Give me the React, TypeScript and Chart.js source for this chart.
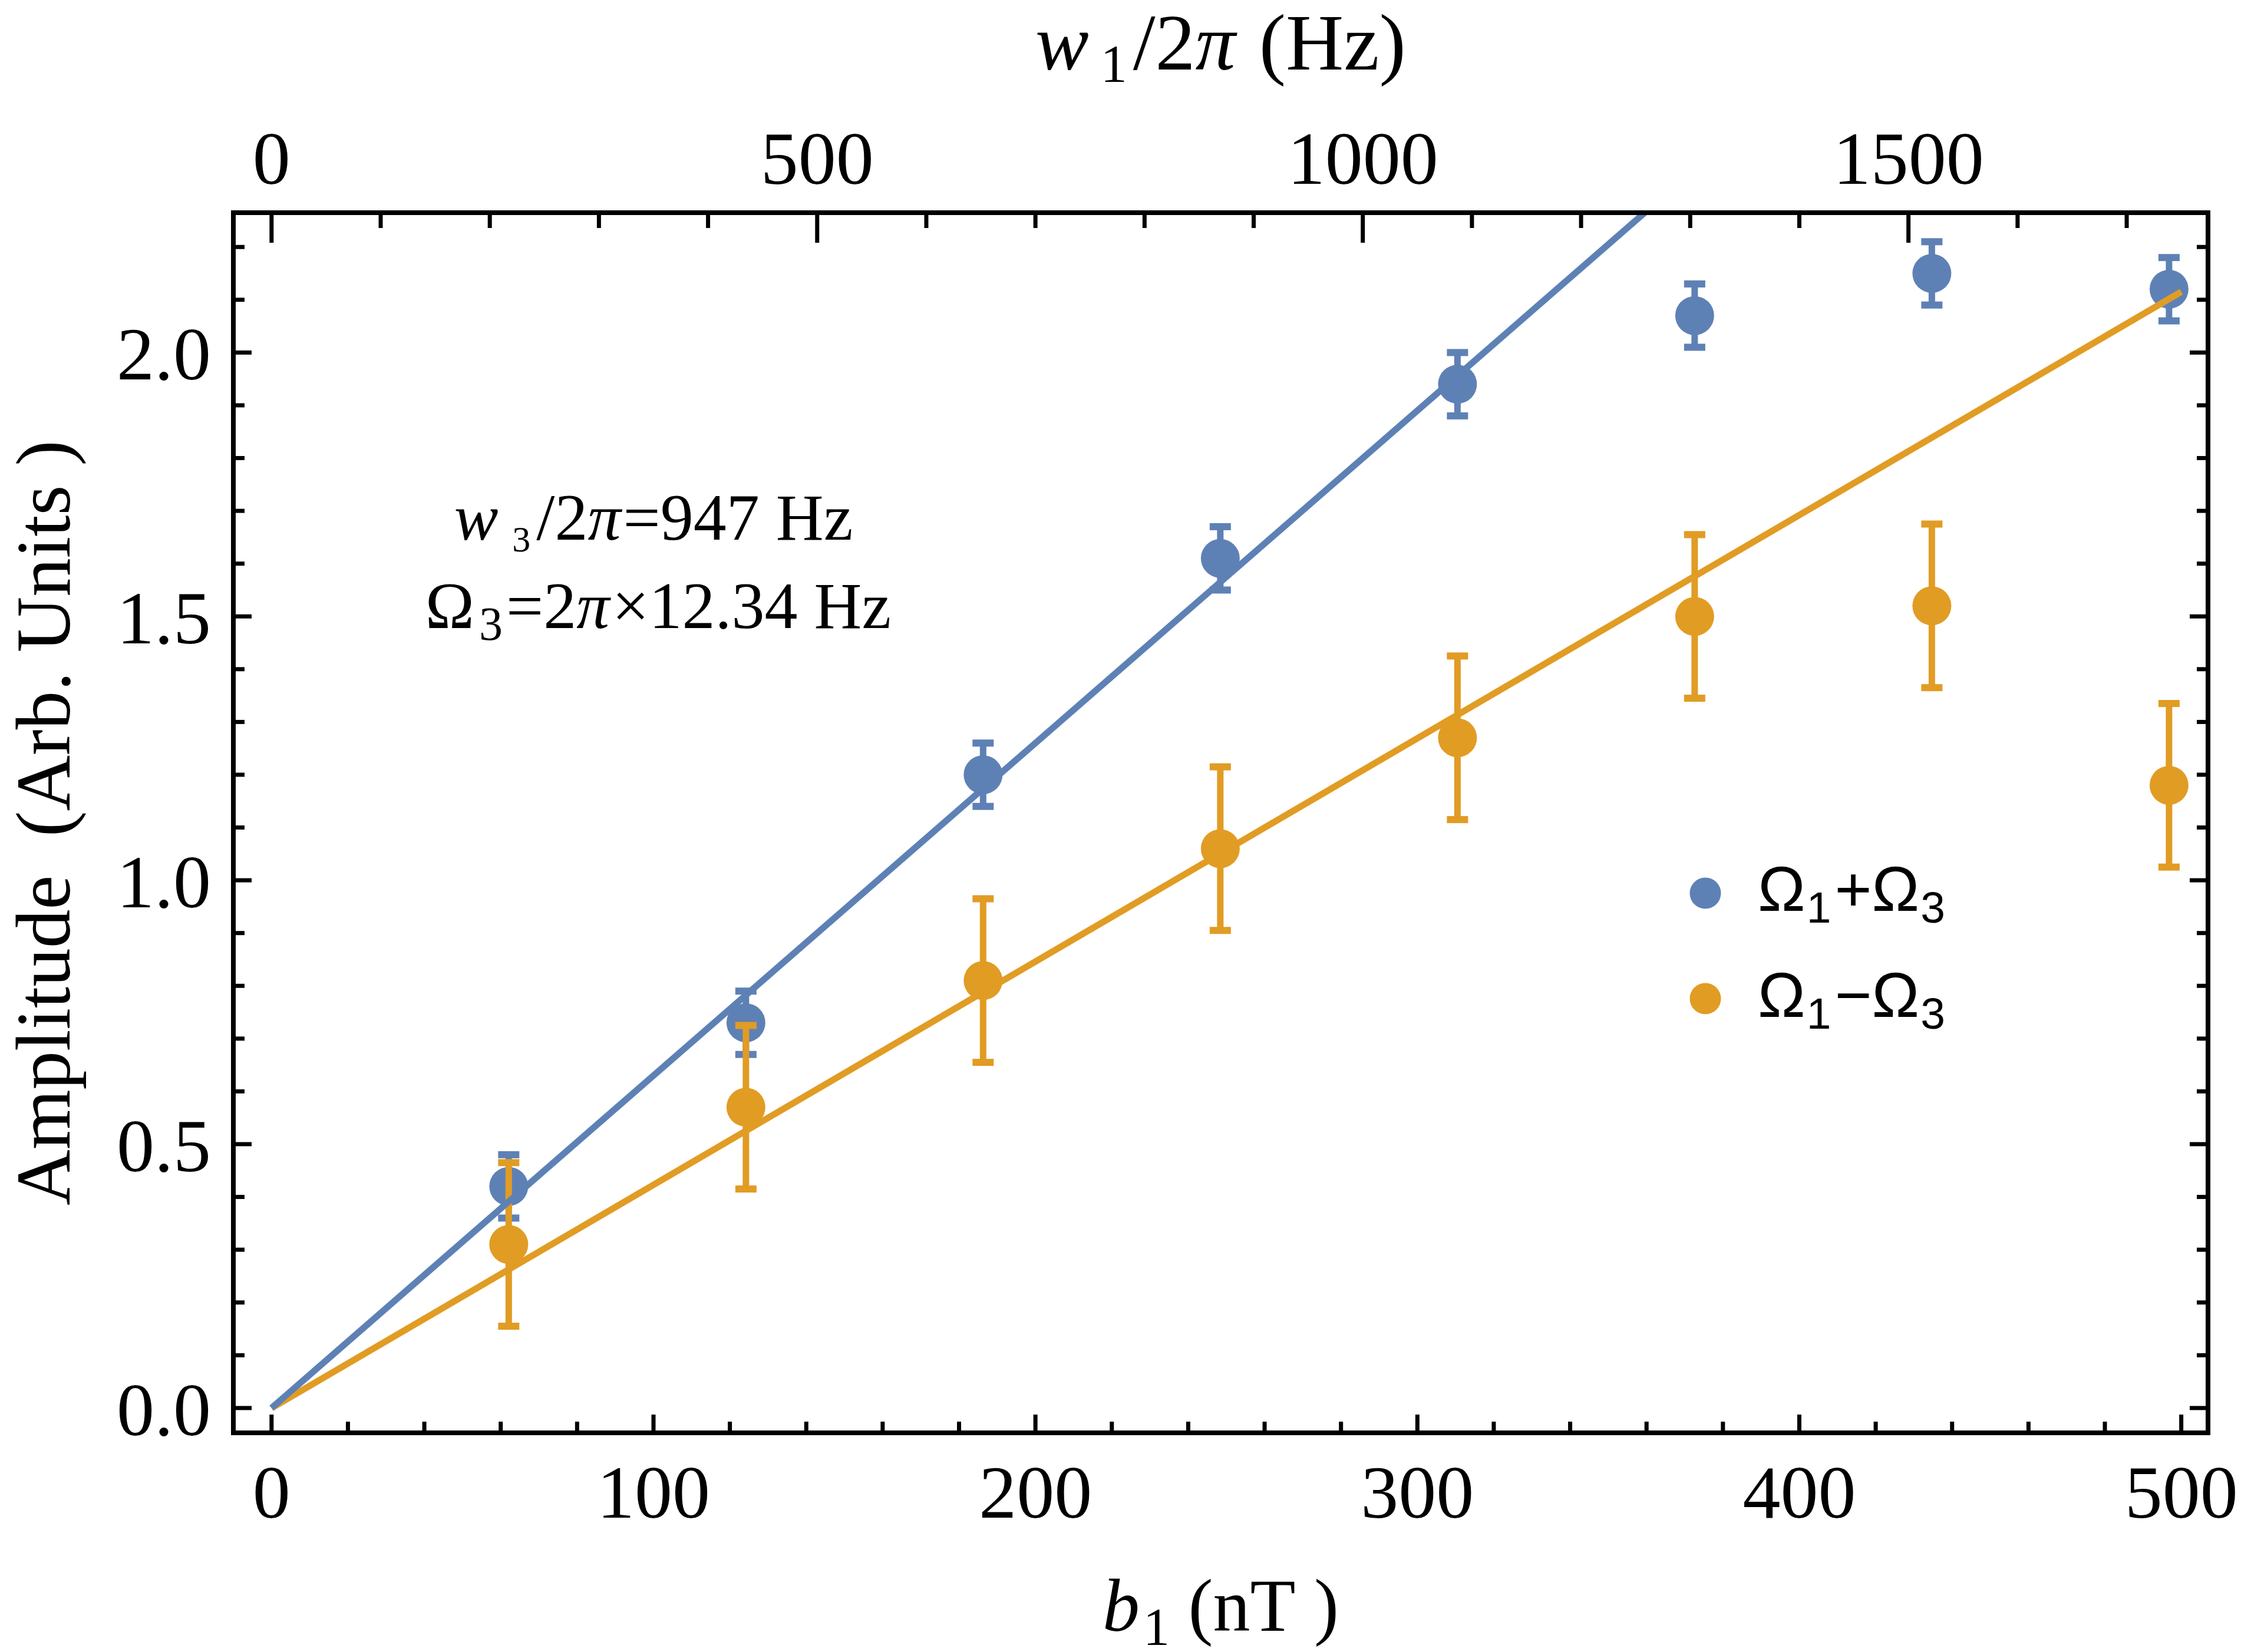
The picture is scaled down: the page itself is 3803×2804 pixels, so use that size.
import React, { useEffect, useRef } from "react";
import { Chart, registerables } from "chart.js";

Chart.register(...registerables);

const W = 3803;
const H = 2804;

// ---------- data ----------
const b1Values = [62.1, 124.2, 186.3, 248.4, 310.5, 372.6, 434.7, 496.8];
const sumAmplitude = [0.42, 0.73, 1.2, 1.61, 1.94, 2.07, 2.15, 2.12];
const sumError = [0.06, 0.06, 0.06, 0.06, 0.06, 0.06, 0.06, 0.06];
const diffAmplitude = [0.31, 0.57, 0.81, 1.06, 1.27, 1.5, 1.52, 1.18];
const diffError = [0.155, 0.155, 0.155, 0.155, 0.155, 0.155, 0.155, 0.155];
const fitB1 = [0, 500];
const sumFit = [0, 3.15];
const diffFit = [0, 2.115];

// ---------- axes ----------
const X_MIN = -10;
const X_MAX = 507;
const Y_MIN = -0.047;
const Y_MAX = 2.265;
const HZ_PER_NT = 3.5;

const bottomMajorTicks = [0, 100, 200, 300, 400, 500];
const bottomTickLabels = ["0", "100", "200", "300", "400", "500"];
const bottomMinorTicks = [20, 40, 60, 80, 120, 140, 160, 180, 220, 240, 260, 280, 320, 340, 360, 380, 420, 440, 460, 480];
const topMajorTicks = [0, 500, 1000, 1500];
const topTickLabels = ["0", "500", "1000", "1500"];
const topMinorTicks = [100, 200, 300, 400, 600, 700, 800, 900, 1100, 1200, 1300, 1400, 1600, 1700];
const leftMajorTicks = [0, 0.5, 1.0, 1.5, 2.0];
const leftTickLabels = ["0.0", "0.5", "1.0", "1.5", "2.0"];
const leftMinorTicks = [0.1, 0.2, 0.3, 0.4, 0.6, 0.7, 0.8, 0.9, 1.1, 1.2, 1.3, 1.4, 1.6, 1.7, 1.8, 1.9, 2.1, 2.2];

const BLUE = "#5E81B5";
const ORANGE = "#E19C24";
const SERIF = "'Liberation Serif', 'Times New Roman', serif";
const SANS = "'Liberation Sans', Arial, sans-serif";

type Seg = { t: string; size: number; italic?: boolean; dy?: number; dx?: number; family?: string };

function segFont(s: Seg, family: string) {
  return `${s.italic ? "italic " : ""}${s.size}px ${s.family || family}`;
}

function drawRich(ctx: CanvasRenderingContext2D, segs: Seg[], x: number, y: number, align: "left" | "center", family: string) {
  let total = 0;
  for (const s of segs) {
    ctx.font = segFont(s, family);
    total += (s.dx || 0) + ctx.measureText(s.t).width;
  }
  let cx = align === "center" ? x - total / 2 : x;
  ctx.textAlign = "left";
  ctx.textBaseline = "alphabetic";
  for (const s of segs) {
    ctx.font = segFont(s, family);
    cx += s.dx || 0;
    ctx.fillText(s.t, cx, y + (s.dy || 0));
    cx += ctx.measureText(s.t).width;
  }
}

const errorBarPlugin = {
  id: "errorBars",
  beforeDatasetDraw(chart: any, args: any) {
    const ds: any = chart.data.datasets[args.index];
    if (!ds.errors) return;
    const xs = chart.scales.x;
    const ys = chart.scales.y;
    const ctx: CanvasRenderingContext2D = chart.ctx;
    ctx.save();
    ctx.strokeStyle = ds.backgroundColor;
    ctx.fillStyle = ds.backgroundColor;
    ds.data.forEach((p: any, i: number) => {
      const px = xs.getPixelForValue(p.x);
      const top = ys.getPixelForValue(p.y + ds.errors[i]);
      const bot = ys.getPixelForValue(p.y - ds.errors[i]);
      ctx.lineWidth = 11;
      ctx.beginPath();
      ctx.moveTo(px, top);
      ctx.lineTo(px, bot);
      ctx.stroke();
      ctx.fillRect(px - 18, top - 6, 36, 12);
      ctx.fillRect(px - 18, bot - 6, 36, 12);
    });
    ctx.restore();
  },
};

const framePlugin = {
  id: "frameDecor",
  afterDraw(chart: any) {
    const ctx: CanvasRenderingContext2D = chart.ctx;
    const a = chart.chartArea;
    const xs = chart.scales.x;
    const x2 = chart.scales.x2;
    const ys = chart.scales.y;
    ctx.save();
    ctx.strokeStyle = "#000";
    ctx.fillStyle = "#000";
    ctx.lineCap = "butt";

    // ticks
    ctx.lineWidth = 7;
    const vTick = (px: number, y0: number, len: number) => {
      ctx.beginPath();
      ctx.moveTo(px, y0);
      ctx.lineTo(px, y0 + len);
      ctx.stroke();
    };
    const hTick = (py: number, x0: number, len: number) => {
      ctx.beginPath();
      ctx.moveTo(x0, py);
      ctx.lineTo(x0 + len, py);
      ctx.stroke();
    };
    bottomMajorTicks.forEach((v) => vTick(xs.getPixelForValue(v), a.bottom, -31));
    bottomMinorTicks.forEach((v) => vTick(xs.getPixelForValue(v), a.bottom, -19));
    topMajorTicks.forEach((v) => vTick(x2.getPixelForValue(v), a.top, 51));
    topMinorTicks.forEach((v) => vTick(x2.getPixelForValue(v), a.top, 26));
    leftMajorTicks.forEach((v) => {
      hTick(ys.getPixelForValue(v), a.left, 31);
      hTick(ys.getPixelForValue(v), a.right, -31);
    });
    leftMinorTicks.forEach((v) => {
      hTick(ys.getPixelForValue(v), a.left, 19);
      hTick(ys.getPixelForValue(v), a.right, -19);
    });

    // frame
    ctx.lineWidth = 8;
    ctx.strokeRect(a.left, a.top, a.right - a.left, a.bottom - a.top);

    // tick labels
    ctx.font = `128px ${SERIF}`;
    ctx.textBaseline = "alphabetic";
    ctx.textAlign = "center";
    bottomMajorTicks.forEach((v, i) => ctx.fillText(bottomTickLabels[i], xs.getPixelForValue(v), 2576));
    topMajorTicks.forEach((v, i) => ctx.fillText(topTickLabels[i], x2.getPixelForValue(v), 312));
    ctx.textAlign = "right";
    leftMajorTicks.forEach((v, i) => ctx.fillText(leftTickLabels[i], 358, ys.getPixelForValue(v) + 46));

    // axis titles
    const cx = (a.left + a.right) / 2;
    drawRich(
      ctx,
      [
        { t: "w", size: 136, italic: true },
        { t: "1", size: 90, dy: 21, dx: 20 },
        { t: "/2", size: 136, dx: 10 },
        { t: "π", size: 136, italic: true },
        { t: " (Hz)", size: 136, dx: 6 },
      ],
      cx,
      118,
      "center",
      SERIF
    );
    drawRich(
      ctx,
      [
        { t: "b", size: 126, italic: true },
        { t: "1", size: 90, dy: 24, dx: 6 },
        { t: " (nT )", size: 126 },
      ],
      cx,
      2768,
      "center",
      SERIF
    );
    ctx.save();
    ctx.translate(118, (a.top + a.bottom) / 2);
    ctx.rotate(-Math.PI / 2);
    ctx.font = `131px ${SERIF}`;
    ctx.textAlign = "center";
    ctx.textBaseline = "alphabetic";
    ctx.fillText("Amplitude  (Arb. Units )", 0, 0);
    ctx.restore();

    // annotation
    drawRich(
      ctx,
      [
        { t: "w", size: 112, italic: true },
        { t: "3", size: 62, dy: 20, dx: 24 },
        { t: "/2", size: 112, dx: 10 },
        { t: "π", size: 112, italic: true },
        { t: "=947 Hz", size: 112, dx: 4 },
      ],
      1109,
      916,
      "center",
      SERIF
    );
    drawRich(
      ctx,
      [
        { t: "Ω", size: 112 },
        { t: "3", size: 80, dy: 20, dx: 8 },
        { t: "=2", size: 112, dx: 6 },
        { t: "π", size: 112, italic: true },
        { t: "×12.34 Hz", size: 112, dx: 4 },
      ],
      1117,
      1066,
      "center",
      SERIF
    );

    // legend
    const legend = [
      { color: BLUE, op: "+", y: 1516, base: 1546 },
      { color: ORANGE, op: "−", y: 1695, base: 1726 },
    ];
    legend.forEach((l) => {
      ctx.fillStyle = l.color;
      ctx.beginPath();
      ctx.arc(2894, l.y, 26.5, 0, Math.PI * 2);
      ctx.fill();
      ctx.fillStyle = "#000";
      drawRich(
        ctx,
        [
          { t: "Ω", size: 108 },
          { t: "1", size: 75, dy: 20, dx: 2 },
          { t: l.op, size: 108, dx: 6 },
          { t: "Ω", size: 108 },
          { t: "3", size: 75, dy: 20, dx: 2 },
        ],
        2983,
        l.base,
        "left",
        SANS
      );
    });
    ctx.restore();
  },
};

export default function App() {
  const ref = useRef<HTMLCanvasElement>(null);

  useEffect(() => {
    const canvas = ref.current;
    if (!canvas) return;
    const chart = new Chart(canvas, {
      type: "scatter",
      data: {
        datasets: [
          {
            label: "fit Ω1+Ω3",
            data: fitB1.map((x, i) => ({ x, y: sumFit[i] })),
            showLine: true,
            borderColor: BLUE,
            borderWidth: 11,
            pointRadius: 0,
            clip: 0,
            order: 0,
          } as any,
          {
            label: "fit Ω1−Ω3",
            data: fitB1.map((x, i) => ({ x, y: diffFit[i] })),
            showLine: true,
            borderColor: ORANGE,
            borderWidth: 11,
            pointRadius: 0,
            clip: 0,
            order: 0,
          } as any,
          {
            label: "Ω1−Ω3",
            data: b1Values.map((x, i) => ({ x, y: diffAmplitude[i] })),
            errors: diffError,
            backgroundColor: ORANGE,
            borderWidth: 0,
            pointRadius: 33,
            pointHoverRadius: 33,
            order: 1,
          } as any,
          {
            label: "Ω1+Ω3",
            data: b1Values.map((x, i) => ({ x, y: sumAmplitude[i] })),
            errors: sumError,
            backgroundColor: BLUE,
            borderWidth: 0,
            pointRadius: 33,
            pointHoverRadius: 33,
            order: 2,
          } as any,
        ],
      },
      options: {
        animation: false,
        responsive: false,
        devicePixelRatio: 1,
        events: [],
        layout: { padding: { left: 396, right: 56, top: 361, bottom: 372 } },
        plugins: { legend: { display: false }, tooltip: { enabled: false } },
        scales: {
          x: { type: "linear", min: X_MIN, max: X_MAX, display: false },
          x2: { type: "linear", position: "top", min: X_MIN * HZ_PER_NT, max: X_MAX * HZ_PER_NT, display: false },
          y: { type: "linear", min: Y_MIN, max: Y_MAX, display: false },
        },
      } as any,
      plugins: [errorBarPlugin, framePlugin],
    });
    return () => chart.destroy();
  }, []);

  return (
    <div style={{ position: "fixed", left: 0, top: 0, width: W, height: H, background: "#ffffff" }}>
      <canvas ref={ref} width={W} height={H} style={{ width: W, height: H, display: "block" }} />
    </div>
  );
}
